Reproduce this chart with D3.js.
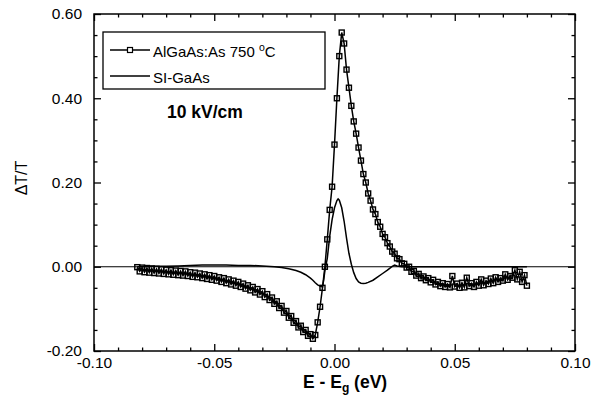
<!DOCTYPE html>
<html>
<head>
<meta charset="utf-8">
<script src="https://cdn.jsdelivr.net/npm/d3@7"></script>
<style>
  html, body { margin: 0; padding: 0; background: #fff; }
  svg { display: block; }
  text { font-family: "Liberation Sans", Arial, Helvetica, sans-serif; fill: #000; }
</style>
</head>
<body>
<svg id="chart" width="608" height="411"></svg>
<script>
// ---------------- DATA ----------------
const xTicks = [-0.10, -0.05, 0.00, 0.05, 0.10];
const xTickLabels = ["-0.10", "-0.05", "0.00", "0.05", "0.10"];
const yTicks = [-0.20, 0.00, 0.20, 0.40, 0.60];
const yTickLabels = ["-0.20", "0.00", "0.20", "0.40", "0.60"];
const xMinorTicks = [-0.09,-0.08,-0.07,-0.06,-0.04,-0.03,-0.02,-0.01,0.01,0.02,0.03,0.04,0.06,0.07,0.08,0.09];
const yMinorTicks = [-0.15,-0.10,-0.05,0.05,0.10,0.15,0.25,0.30,0.35,0.45,0.50,0.55];

const seriesNames = ["AlGaAs:As 750 \u00B0C", "SI-GaAs"];

// AlGaAs:As 750 °C  [E - Eg (eV), ΔT/T]
const algaas = [
  [-0.082,-0.001],[-0.081,-0.011],[-0.080,-0.002],[-0.079,-0.013],[-0.078,-0.003],[-0.077,-0.014],
  [-0.076,-0.004],[-0.075,-0.015],[-0.074,-0.005],[-0.073,-0.016],[-0.072,-0.006],[-0.071,-0.017],
  [-0.070,-0.007],[-0.069,-0.018],[-0.068,-0.008],[-0.067,-0.019],[-0.066,-0.009],[-0.065,-0.020],
  [-0.064,-0.010],[-0.063,-0.021],[-0.062,-0.011],[-0.061,-0.022],[-0.060,-0.013],[-0.059,-0.024],
  [-0.058,-0.014],[-0.057,-0.025],[-0.056,-0.016],[-0.055,-0.027],[-0.054,-0.018],[-0.053,-0.029],
  [-0.052,-0.020],[-0.051,-0.031],[-0.050,-0.022],[-0.049,-0.033],[-0.048,-0.025],[-0.047,-0.036],
  [-0.046,-0.027],[-0.045,-0.039],[-0.044,-0.030],[-0.043,-0.042],[-0.042,-0.033],[-0.041,-0.045],
  [-0.040,-0.036],[-0.039,-0.048],[-0.038,-0.040],[-0.037,-0.052],[-0.036,-0.044],[-0.035,-0.056],
  [-0.034,-0.048],[-0.033,-0.061],[-0.032,-0.053],[-0.031,-0.066],[-0.030,-0.058],[-0.029,-0.072],
  [-0.028,-0.065],[-0.027,-0.079],[-0.026,-0.073],[-0.025,-0.088],[-0.024,-0.082],[-0.023,-0.098],
  [-0.022,-0.093],[-0.021,-0.109],[-0.020,-0.105],[-0.019,-0.121],[-0.018,-0.117],[-0.017,-0.133],
  [-0.016,-0.129],[-0.015,-0.144],[-0.014,-0.140],[-0.013,-0.155],[-0.012,-0.150],[-0.011,-0.164],
  [-0.010,-0.160],[-0.009,-0.171],[-0.008,-0.162],[-0.007,-0.132],[-0.006,-0.095],[-0.005,-0.050],
  [-0.004,0.000],[-0.003,0.065],[-0.002,0.135],[-0.001,0.190],[0.000,0.290],[0.001,0.400],
  [0.002,0.500],[0.003,0.556],[0.004,0.530],[0.005,0.468],[0.006,0.425],[0.007,0.382],
  [0.008,0.345],[0.009,0.316],[0.010,0.283],[0.011,0.252],[0.012,0.220],[0.013,0.200],
  [0.014,0.174],[0.015,0.157],[0.016,0.136],[0.017,0.125],[0.018,0.106],[0.019,0.095],
  [0.020,0.078],[0.021,0.070],[0.022,0.056],[0.023,0.048],[0.024,0.036],[0.025,0.031],
  [0.026,0.020],[0.027,0.018],[0.028,0.008],[0.029,0.007],[0.030,-0.002],[0.031,0.000],
  [0.032,-0.012],[0.033,-0.010],[0.034,-0.021],[0.035,-0.017],[0.036,-0.027],[0.037,-0.023],
  [0.038,-0.032],[0.039,-0.027],[0.040,-0.037],[0.041,-0.031],[0.042,-0.042],[0.043,-0.036],
  [0.044,-0.046],[0.045,-0.039],[0.046,-0.048],[0.047,-0.041],[0.048,-0.049],[0.049,-0.022],
  [0.050,-0.047],[0.051,-0.040],[0.052,-0.050],[0.053,-0.038],[0.054,-0.049],[0.055,-0.026],
  [0.056,-0.046],[0.057,-0.039],[0.058,-0.048],[0.059,-0.036],[0.060,-0.045],[0.061,-0.030],
  [0.062,-0.044],[0.063,-0.033],[0.064,-0.041],[0.065,-0.028],[0.066,-0.039],[0.067,-0.025],
  [0.068,-0.036],[0.069,-0.027],[0.070,-0.033],[0.071,-0.018],[0.072,-0.031],[0.073,-0.022],
  [0.074,-0.026],[0.075,-0.008],[0.076,-0.030],[0.077,-0.012],[0.078,-0.036],[0.079,-0.020],
  [0.080,-0.045]
];

// SI-GaAs  [E - Eg (eV), ΔT/T]
const sigaas = [
  [-0.082,0.000],[-0.075,0.001],[-0.070,0.001],[-0.065,0.002],[-0.060,0.003],[-0.055,0.004],
  [-0.050,0.004],[-0.045,0.004],[-0.040,0.003],[-0.035,0.003],[-0.030,0.002],[-0.025,0.000],
  [-0.022,-0.002],[-0.019,-0.005],[-0.016,-0.009],[-0.014,-0.013],[-0.012,-0.019],[-0.010,-0.027],
  [-0.009,-0.032],[-0.008,-0.038],[-0.007,-0.043],[-0.006,-0.046],[-0.005,-0.048],[-0.0045,-0.032],
  [-0.004,-0.010],[-0.003,0.020],[-0.002,0.072],[-0.001,0.112],[0.000,0.140],[0.001,0.157],
  [0.0015,0.161],[0.002,0.158],[0.003,0.140],[0.004,0.108],[0.005,0.068],[0.006,0.032],
  [0.007,0.006],[0.008,-0.014],[0.009,-0.028],[0.010,-0.036],[0.011,-0.039],[0.012,-0.040],
  [0.013,-0.039],[0.014,-0.037],[0.016,-0.032],[0.018,-0.024],[0.020,-0.016],[0.022,-0.008],
  [0.024,0.001],[0.025,0.004],[0.026,0.002],[0.028,0.000],[0.040,0.000],[0.060,0.000],
  [0.080,0.000]
];

// ---------------- LAYOUT ----------------
const svg = d3.select("#chart");
const L = 94, R = 575, T = 14, B = 351;
const x = d3.scaleLinear().domain([-0.10, 0.10]).range([L, R]);
const y = d3.scaleLinear().domain([-0.20, 0.60]).range([B, T]);
const FS = 15.5;

// frame
svg.append("rect").attr("x", L).attr("y", T).attr("width", R - L).attr("height", B - T)
  .attr("fill", "none").attr("stroke", "#000").attr("stroke-width", 1.5);

// zero reference line
svg.append("line").attr("x1", x(-0.10)).attr("x2", x(0.10)).attr("y1", y(0)).attr("y2", y(0))
  .attr("stroke", "#000").attr("stroke-width", 1.1);

function styleAxis(g) {
  g.select(".domain").remove();
  g.selectAll(".tick line").attr("stroke", "#000").attr("stroke-width", 1.3);
  g.selectAll("text").style("font-size", FS + "px").attr("fill", "#000");
}

// bottom axis (major + minor)
svg.append("g").attr("transform", `translate(0,${B})`)
  .call(d3.axisBottom(x).tickValues(xTicks).tickFormat((d, i) => xTickLabels[i])
    .tickSizeInner(-7).tickSizeOuter(0).tickPadding(6)).call(styleAxis);
svg.append("g").attr("transform", `translate(0,${B})`)
  .call(d3.axisBottom(x).tickValues(xMinorTicks).tickFormat("").tickSizeInner(-3.5).tickSizeOuter(0)).call(styleAxis);
// top axis
svg.append("g").attr("transform", `translate(0,${T})`)
  .call(d3.axisTop(x).tickValues(xTicks).tickFormat("").tickSizeInner(-7).tickSizeOuter(0)).call(styleAxis);
svg.append("g").attr("transform", `translate(0,${T})`)
  .call(d3.axisTop(x).tickValues(xMinorTicks).tickFormat("").tickSizeInner(-3.5).tickSizeOuter(0)).call(styleAxis);
// left axis
svg.append("g").attr("transform", `translate(${L},0)`)
  .call(d3.axisLeft(y).tickValues(yTicks).tickFormat((d, i) => yTickLabels[i])
    .tickSizeInner(-7).tickSizeOuter(0).tickPadding(12)).call(styleAxis);
svg.append("g").attr("transform", `translate(${L},0)`)
  .call(d3.axisLeft(y).tickValues(yMinorTicks).tickFormat("").tickSizeInner(-3.5).tickSizeOuter(0)).call(styleAxis);
// right axis
svg.append("g").attr("transform", `translate(${R},0)`)
  .call(d3.axisRight(y).tickValues(yTicks).tickFormat("").tickSizeInner(-7).tickSizeOuter(0)).call(styleAxis);
svg.append("g").attr("transform", `translate(${R},0)`)
  .call(d3.axisRight(y).tickValues(yMinorTicks).tickFormat("").tickSizeInner(-3.5).tickSizeOuter(0)).call(styleAxis);

// ---------------- SERIES ----------------
const line = d3.line().x(d => x(d[0])).y(d => y(d[1]));

svg.append("path").datum(sigaas).attr("d", line)
  .attr("fill", "none").attr("stroke", "#000").attr("stroke-width", 1.5);

svg.append("path").datum(algaas).attr("d", line)
  .attr("fill", "none").attr("stroke", "#000").attr("stroke-width", 1.5);

const MS = 5;
svg.append("g").selectAll("rect").data(algaas).join("rect")
  .attr("x", d => x(d[0]) - MS / 2).attr("y", d => y(d[1]) - MS / 2)
  .attr("width", MS).attr("height", MS)
  .attr("fill", "none").attr("stroke", "#000").attr("stroke-width", 1.4);

// ---------------- LEGEND ----------------
const lg = svg.append("g");
lg.append("rect").attr("x", 103).attr("y", 32).attr("width", 222).attr("height", 57)
  .attr("fill", "#fff").attr("stroke", "#000").attr("stroke-width", 1.3);
lg.append("line").attr("x1", 110).attr("x2", 150).attr("y1", 50).attr("y2", 50)
  .attr("stroke", "#000").attr("stroke-width", 1.3);
lg.append("rect").attr("x", 130 - MS / 2).attr("y", 50 - MS / 2).attr("width", MS).attr("height", MS)
  .attr("fill", "#fff").attr("stroke", "#000").attr("stroke-width", 1.2);
const t1 = lg.append("text").attr("x", 153).attr("y", 57).style("font-size", "15px");
t1.append("tspan").text("AlGaAs:As 750 ");
t1.append("tspan").attr("dy", -6).style("font-size", "10.5px").text("o");
t1.append("tspan").attr("dy", 6).text("C");
lg.append("line").attr("x1", 110).attr("x2", 150).attr("y1", 76).attr("y2", 76)
  .attr("stroke", "#000").attr("stroke-width", 1.3);
lg.append("text").attr("x", 153).attr("y", 83).style("font-size", "15px").text(seriesNames[1]);

// annotation
svg.append("text").attr("x", 167).attr("y", 118).style("font-size", "17.5px")
  .style("font-weight", "bold").text("10 kV/cm");

// ---------------- AXIS TITLES ----------------
svg.append("text").attr("transform", "translate(27,178) rotate(-90)")
  .attr("text-anchor", "middle").style("font-size", "16px").text("\u0394T/T");

const xt = svg.append("text").attr("x", 303).attr("y", 388).style("font-size", "17.5px")
  .style("font-weight", "bold");
xt.append("tspan").text("E - E");
xt.append("tspan").attr("dy", 4).style("font-size", "12px").text("g");
xt.append("tspan").attr("dy", -4).text(" (eV)");
</script>
</body>
</html>
